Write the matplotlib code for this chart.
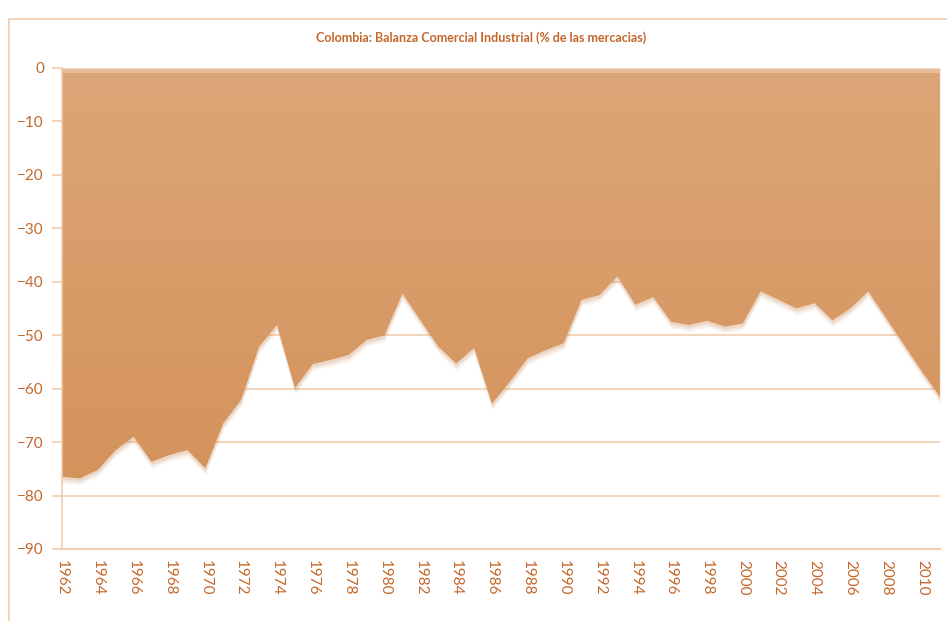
import matplotlib.pyplot as plt
import numpy as np
from matplotlib.patches import Rectangle, Polygon

years = list(range(1962, 2012))
balance = [-76.5, -76.8, -75.2, -71.5, -69.0, -73.7, -72.4, -71.5, -74.9, -66.5,
           -62.1, -52.1, -48.1, -59.9, -55.4, -54.6, -53.7, -50.9, -50.0, -42.2,
           -47.2, -52.1, -55.3, -52.4, -62.8, -58.7, -54.3, -52.8, -51.5, -43.4,
           -42.5, -39.0, -44.3, -42.9, -47.5, -48.1, -47.3, -48.4, -47.8, -41.8,
           -43.4, -45.0, -44.0, -47.2, -45.0, -41.8, -46.8, -51.8, -56.8, -61.5]
tick_years = list(range(1962, 2011, 2))
yticks = list(range(0, -91, -10))

title = "Colombia: Balanza Comercial Industrial (% de las mercacias)"
text_color = "#C4672B"
grid_color = "#F1CDAE"

plt.rcParams['font.family'] = ['Lato', 'DejaVu Sans']

fig = plt.figure(figsize=(9.47, 6.21), dpi=100)
ax = fig.add_axes([0.0655, 0.116, 0.927, 0.7745])

# outer frame of the chart area
fig.patches.append(Rectangle((9 / 947, -0.1), 1.2, 1 - 19 / 621 + 0.1,
                             transform=fig.transFigure, fill=False,
                             edgecolor=grid_color, linewidth=1.2))

ax.set_xlim(1962, 2011)
ax.set_ylim(-90, 0)

for v in yticks[1:]:
    ax.axhline(v, color=grid_color, linewidth=1.2, zorder=0)

# soft shadow under the area edge
x = np.array(years, dtype=float)
y = np.array(balance)
for k, a in zip([2.2, 1.5, 0.8], [0.08, 0.12, 0.18]):
    ax.fill_between(x, 0, y - k * 0.55, color="#C98A55", alpha=a, linewidth=0, zorder=1)

# gradient fill clipped to the area polygon
grad = np.linspace(0, 1, 256).reshape(-1, 1)
from matplotlib.colors import LinearSegmentedColormap
cmap = LinearSegmentedColormap.from_list("g", ["#DCA678", "#D4925A"])
im = ax.imshow(grad, extent=[1962, 2011, -80, 0], aspect='auto', cmap=cmap,
               origin='upper', zorder=2)
poly = Polygon(np.column_stack([np.r_[x, x[::-1]], np.r_[y, np.zeros_like(y)]]),
               closed=True, transform=ax.transData, facecolor='none', edgecolor='none')
ax.add_patch(poly)
im.set_clip_path(poly)

# light band along the zero line
ax.fill_between(x, 0, -1.0, color="#E6BD97", linewidth=0, zorder=3)
ax.axhline(0, color="#F3D9C2", linewidth=1.5, zorder=3)

ax.set_yticks(yticks)
ax.set_xticks(tick_years)
ax.set_xticklabels([str(t) for t in tick_years], rotation=270, fontsize=11,
                   color=text_color)
ax.tick_params(axis='x', length=0, pad=8)
ax.tick_params(axis='y', colors=grid_color, labelcolor=text_color, labelsize=11,
               length=7, width=1.2, pad=6)

for s in ['top', 'right']:
    ax.spines[s].set_visible(False)
ax.spines['left'].set_color(grid_color)
ax.spines['left'].set_linewidth(1.2)
ax.spines['bottom'].set_color(grid_color)
ax.spines['bottom'].set_linewidth(1.5)

fig.text(0.508, 0.94, title, ha='center', va='center', fontsize=9,
         color=text_color, fontweight='bold')

fig.savefig("out.png", dpi=100)
